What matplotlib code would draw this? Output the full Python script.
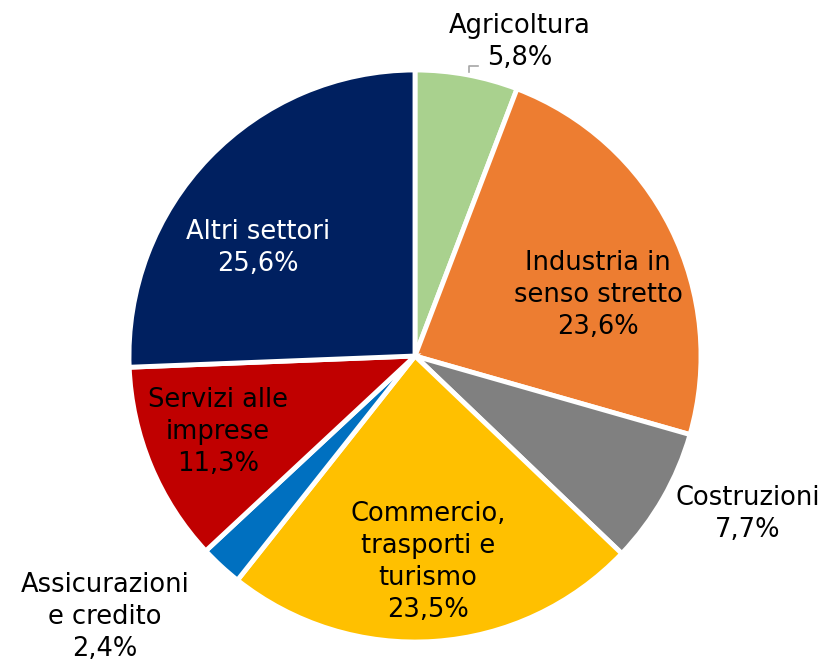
import matplotlib.pyplot as plt

# dati
settori = ['Agricoltura', 'Industria in\nsenso stretto', 'Costruzioni',
           'Commercio,\ntrasporti e\nturismo', 'Assicurazioni\ne credito',
           'Servizi alle\nimprese', 'Altri settori']
quote = [5.8, 23.6, 7.7, 23.5, 2.4, 11.3, 25.6]
colori = ['#A9D18E', '#ED7D31', '#808080', '#FFC000', '#0070C0', '#C00000', '#002060']
col_testo = ['black', 'black', 'black', 'black', 'black', 'black', 'white']

# posizione etichette (pixel)
pos_px = [(520, 42), (598, 295), (748, 514), (428, 562), (105, 617), (218, 432), (258, 248)]

W, H = 828, 665
cx, cy, R = 415, 356, 286

fig = plt.figure(figsize=(W / 100, H / 100), dpi=100)
ax = fig.add_axes([0, 0, 1, 1])
ax.pie(quote, colors=colori, startangle=90, counterclock=False, radius=1,
       wedgeprops=dict(edgecolor='white', linewidth=3.5))
ax.set_aspect('auto')
ax.set_xlim(-cx / R, (W - cx) / R)
ax.set_ylim(-(H - cy) / R, cy / R)
ax.axis('off')

def to_data(x, y):
    return (x - cx) / R, (cy - y) / R

for nome, v, (px, py), c in zip(settori, quote, pos_px, col_testo):
    testo = nome + '\n' + ('%.1f%%' % v).replace('.', ',')
    x, y = to_data(px, py)
    ax.text(x, y, testo, ha='center', va='center', fontsize=18.5, color=c,
            linespacing=1.3)

# linea guida Agricoltura
lx = [to_data(p, 0)[0] for p in (469, 469, 478)]
ly = [to_data(0, p)[1] for p in (72, 66, 66)]
ax.plot(lx, ly, color='#A6A6A6', lw=1.2)

fig.savefig('out.png', dpi=100)
